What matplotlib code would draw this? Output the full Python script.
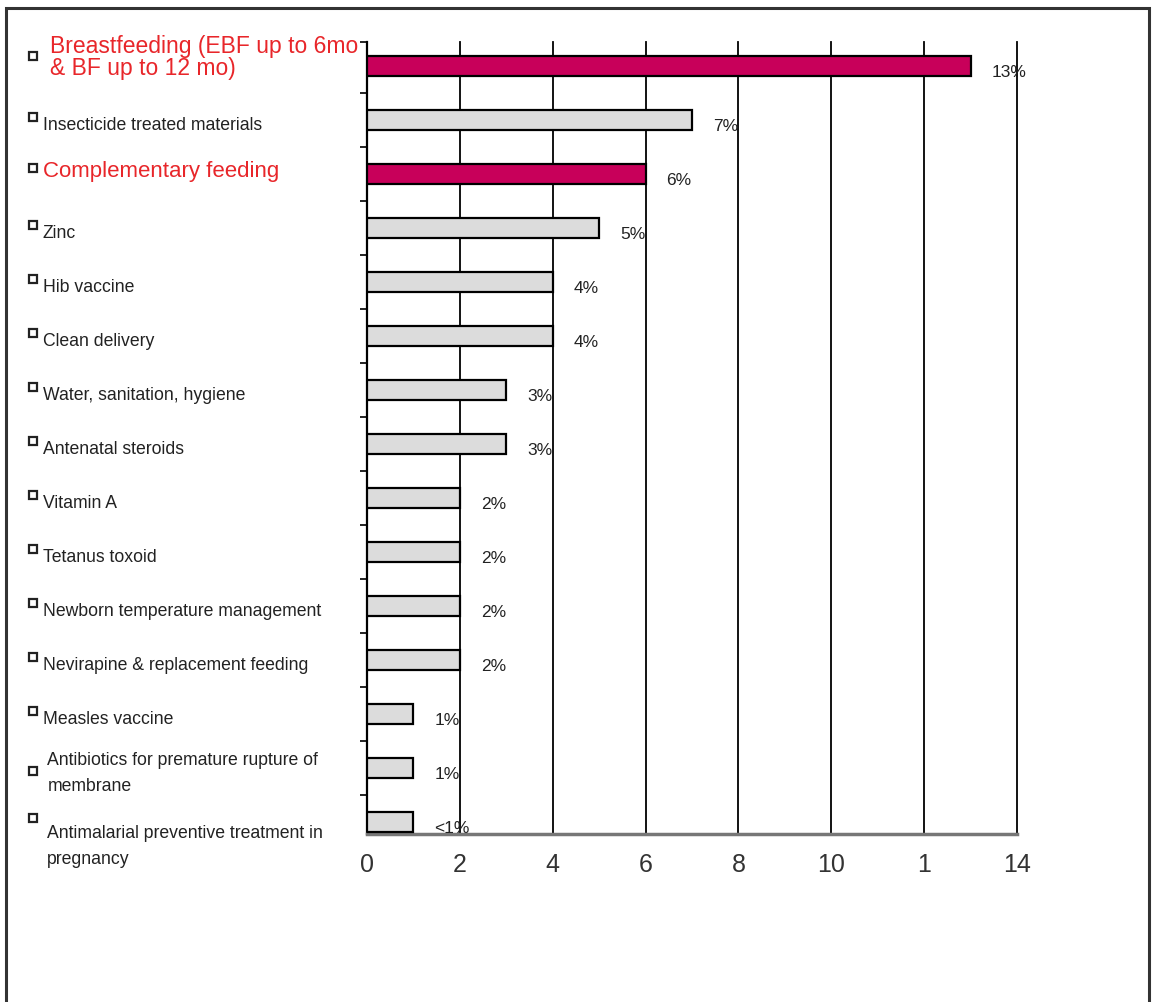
import matplotlib
matplotlib.use("Agg")
import matplotlib.pyplot as plt
from matplotlib.patches import Rectangle
from matplotlib.transforms import blended_transform_factory


# interventions, ordered top to bottom
interventions = [
    "Breastfeeding (EBF up to 6mo\n& BF up to 12 mo)",
    "Insecticide treated materials",
    "Complementary feeding",
    "Zinc",
    "Hib vaccine",
    "Clean delivery",
    "Water, sanitation, hygiene",
    "Antenatal steroids",
    "Vitamin A",
    "Tetanus toxoid",
    "Newborn temperature management",
    "Nevirapine & replacement feeding",
    "Measles vaccine",
    "Antibiotics for premature rupture of\nmembrane",
    "Antimalarial preventive treatment in\npregnancy",
]
deaths_prevented = [13, 7, 6, 5, 4, 4, 3, 3, 2, 2, 2, 2, 1, 1, 1]
value_labels = ["13%", "7%", "6%", "5%", "4%", "4%", "3%", "3%",
                "2%", "2%", "2%", "2%", "1%", "1%", "<1%"]
highlighted = [True, False, True] + [False] * 12

x_ticks = [0, 2, 4, 6, 8, 10, 12, 14]
x_tick_labels = ["0", "2", "4", "6", "8", "10", "1", "14"]

FONT = ["Liberation Sans", "DejaVu Sans"]
MAGENTA = "#c8005a"
LIGHT = "#dcdcdc"
RED_TEXT = "#e8262a"
DARK = "#222222"

fig = plt.figure(figsize=(11.55, 10.02), dpi=100)
ax = fig.add_axes([0.3177, 0.1677, 0.5628, 0.7904])

ypos = list(range(len(interventions)))
colors = [MAGENTA if h else LIGHT for h in highlighted]
ax.barh(ypos, deaths_prevented, height=0.37, color=colors,
        edgecolor="black", linewidth=1.6, zorder=3)

ax.set_xlim(0, 14)
ax.set_ylim(14.22, -0.44)

# vertical gridlines, including the one at the right edge
for xv in x_ticks[1:]:
    ax.axvline(xv, color="black", linewidth=1.3, zorder=1, clip_on=False)

ax.set_xticks(x_ticks)
ax.set_xticklabels(x_tick_labels, fontsize=18, color="#333333", family=FONT)
ax.tick_params(axis="x", length=0, pad=14)

ax.set_yticks([y + 0.5 for y in ypos[:-1]] + [-0.44])
ax.set_yticklabels([])
ax.tick_params(axis="y", length=5, width=1.2, direction="out")

for side in ["top", "right"]:
    ax.spines[side].set_visible(False)
ax.spines["left"].set_linewidth(1.6)
ax.spines["bottom"].set_color("#777777")
ax.spines["bottom"].set_linewidth(2.5)

# value labels to the right of each bar
for y, v, lab in zip(ypos, deaths_prevented, value_labels):
    ax.text(v + 0.45, y + 0.12, lab, va="center", ha="left", fontsize=12.5,
            color=DARK, family=FONT, zorder=4)

# category labels with small square bullets on the left
trans = blended_transform_factory(fig.transFigure, ax.transData)
for y, name, h in zip(ypos, interventions, highlighted):
    multi = "\n" in name
    if h and multi:
        ax.text(0.043, y - 0.15, name, transform=trans, va="center", ha="left",
                fontsize=16.5, color=RED_TEXT, family=FONT, linespacing=0.95,
                clip_on=False)
        by = y - 0.18
    elif h:
        ax.text(0.037, y - 0.05, name, transform=trans, va="center", ha="left",
                fontsize=16, color=RED_TEXT, family=FONT, clip_on=False)
        by = y - 0.1
    elif multi:
        off = 0.1 if y < 14 else 0.46
        ax.text(0.041, y + off, name, transform=trans, va="center", ha="left",
                fontsize=12.7, color=DARK, family=FONT, linespacing=1.7,
                clip_on=False)
        by = y + 0.05 if y < 14 else y - 0.07
    else:
        ax.text(0.037, y + 0.1, name, transform=trans, va="center", ha="left",
                fontsize=12.7, color=DARK, family=FONT, clip_on=False)
        by = y - 0.05
    ax.plot([0.029], [by], transform=trans, marker="s", markersize=6,
            markerfacecolor="white", markeredgecolor=DARK,
            markeredgewidth=1.6, clip_on=False)

# surrounding frame
fig.patches.append(Rectangle((0.005, -0.01), 0.99, 1.002,
                             transform=fig.transFigure, fill=False,
                             edgecolor="#333333", linewidth=2.2))

fig.savefig("out.png", dpi=100)
